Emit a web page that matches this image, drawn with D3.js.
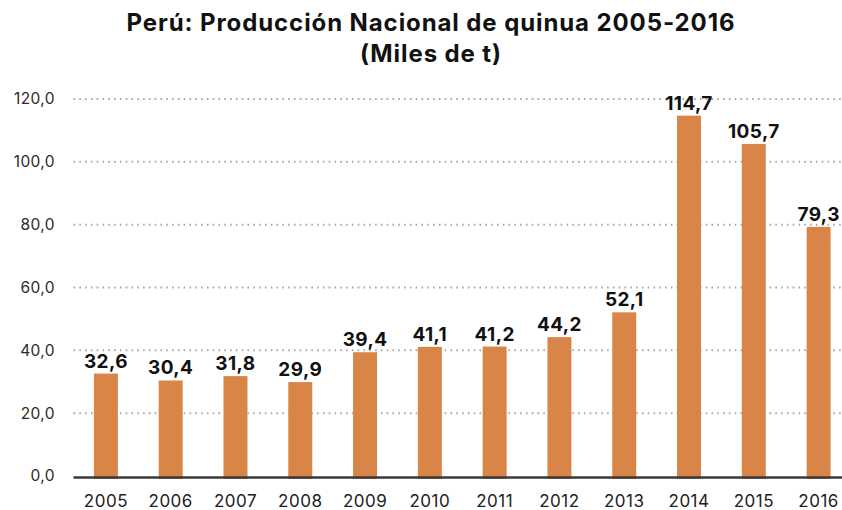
<!DOCTYPE html>
<html>
<head>
<meta charset="utf-8">
<script src="https://cdn.jsdelivr.net/npm/d3@7"></script>
<style>
  body { margin: 0; background: #fff; }
  svg { display: block; }
</style>
</head>
<body>
<div id="chart-area"></div>
<script>
'use strict';

let years = ['2005', '2006', '2007', '2008', '2009', '2010', '2011', '2012', '2013', '2014', '2015', '2016'];
let values = [32.6, 30.4, 31.8, 29.9, 39.4, 41.1, 41.2, 44.2, 52.1, 114.7, 105.7, 79.3];
let yTicks = [0, 20, 40, 60, 80, 100, 120];
let titleLines = ['Perú: Producción Nacional de quinua 2005-2016', '(Miles de t)'];

let W = 842, H = 510;
let margin = { left: 73.5, right: -9, top: 99, bottom: 34 };

let fmt = (d) => d.toFixed(1).replace('.', ',');

let svg = d3.select('#chart-area').append('svg')
    .attr('width', W)
    .attr('height', H);

let x = d3.scaleBand()
    .domain(years)
    .range([margin.left, W - margin.right])
    .paddingInner(0.63)
    .paddingOuter(0.315);

let y = d3.scaleLinear()
    .domain([0, 120])
    .range([H - margin.bottom, margin.top]);

// dotted gridlines
svg.append('g')
    .selectAll('line')
    .data(yTicks.filter(d => d > 0))
    .enter()
    .append('line')
        .attr('x1', margin.left)
        .attr('x2', W)
        .attr('y1', d => y(d))
        .attr('y2', d => y(d))
        .attr('stroke', '#a8a8a8')
        .attr('stroke-width', 2)
        .attr('stroke-dasharray', '1.6,4.2');

// y tick labels
let yAxis = d3.axisLeft(y)
    .tickValues(yTicks)
    .tickSize(0)
    .tickPadding(0)
    .tickFormat(fmt);

let yg = svg.append('g')
    .attr('transform', 'translate(55,0)')
    .call(yAxis);
yg.select('.domain').remove();
yg.selectAll('text')
    .attr('font-family', 'Inter, "Open Sans", sans-serif')
    .attr('font-size', '15.5px')
    .attr('letter-spacing', '0.4px')
    .attr('fill', '#2a2a2a');

// bars (they run a little under the baseline, as in the source)
svg.append('g')
    .selectAll('rect')
    .data(values)
    .enter()
    .append('rect')
        .attr('x', (d, i) => x(years[i]))
        .attr('y', d => y(d))
        .attr('width', x.bandwidth())
        .attr('height', d => y(0) - y(d) + 3)
        .attr('fill', '#d98548');

// value labels
svg.append('g')
    .selectAll('text')
    .data(values)
    .enter()
    .append('text')
        .attr('x', (d, i) => x(years[i]) + x.bandwidth() / 2)
        .attr('y', d => y(d) - 6)
        .attr('text-anchor', 'middle')
        .attr('font-family', 'Inter, "Open Sans", sans-serif')
        .attr('font-weight', 'bold')
        .attr('font-size', '19px')
        .attr('letter-spacing', '0.4px')
        .attr('fill', '#111')
        .text(fmt);

// baseline
let xAxis = d3.axisBottom(x)
    .tickSize(0)
    .tickPadding(17);

let xg = svg.append('g')
    .attr('transform', 'translate(0,' + (y(0) + 1.5) + ')')
    .call(xAxis);
xg.select('.domain')
    .attr('d', 'M' + margin.left + ',0H' + W)
    .attr('stroke', '#3a3a3a')
    .attr('stroke-width', 2.5);
xg.selectAll('text')
    .attr('font-family', 'Inter, "Open Sans", sans-serif')
    .attr('font-size', '17px')
    .attr('letter-spacing', '0.5px')
    .attr('fill', '#222');

// title
svg.append('g')
    .selectAll('text')
    .data(titleLines)
    .enter()
    .append('text')
        .attr('x', 431)
        .attr('y', (d, i) => 31 + i * 31)
        .attr('text-anchor', 'middle')
        .attr('font-family', 'Inter, "Open Sans", sans-serif')
        .attr('font-weight', 'bold')
        .attr('font-size', '24px')
        .attr('letter-spacing', '0.9px')
        .attr('fill', '#111')
        .text(d => d);
</script>
</body>
</html>
